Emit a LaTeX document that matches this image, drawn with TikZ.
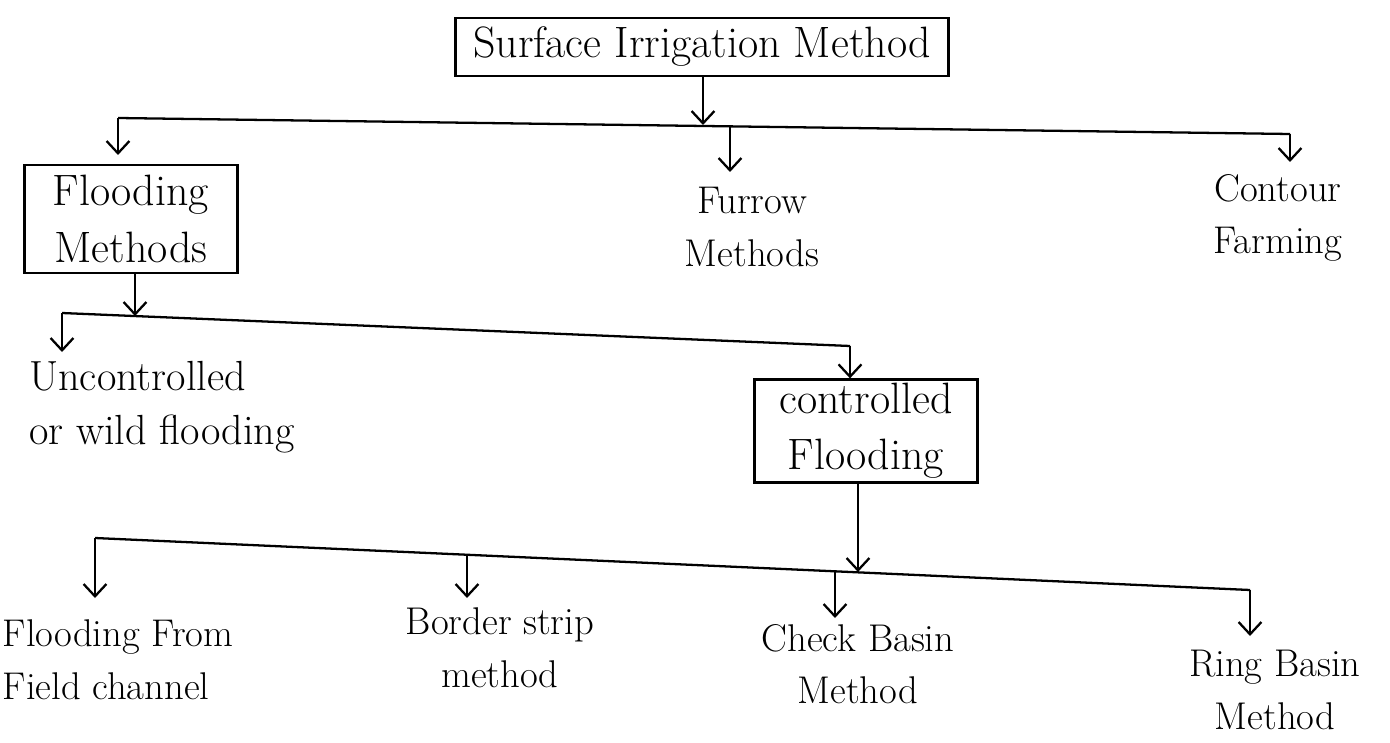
\documentclass[tikz,border=0pt]{standalone}
\usetikzlibrary{arrows.meta}
\begin{document}
\begin{tikzpicture}[x=0.02cm,y=-0.02cm,
    line width=1.3pt,
    >={Straight Barb[length=7pt,width=13pt]},
    box/.style={draw,align=center,inner sep=0pt,font=\fontsize{25}{32}\selectfont},
    leaf/.style={align=center,inner sep=0pt},
    every node/.style={font=\fontsize{22}{30}\selectfont}]
	\useasboundingbox (0,0) rectangle (1390,743);

	% main box
	\node[box,minimum width=493*0.02cm,minimum height=58*0.02cm] (surf) at (702,47) {Surface Irrigation Method};

	% first level
	\coordinate (b1l) at (118,118);
	\coordinate (b1m) at (730,126);
	\coordinate (b1t) at (703,125);
	\coordinate (b1r) at (1290,134);
	\draw (b1l) -- (b1r);
	\draw[->] (surf.south -| b1t) -- (b1t);

	\node[box,minimum width=213*0.02cm,minimum height=108*0.02cm] (flood) at (131,219) {Flooding\\Methods};
	\node[leaf] (furrow) at (752,227) {Furrow\\Methods};
	\node[leaf] (contour) at (1278,218) {Contour\\Farming};
	\draw[->] (b1l) -- (118,155);
	\draw[->] (b1m) -- (730,172);
	\draw[->] (b1r) -- (1290,162);

	% flooding methods
	\coordinate (b2l) at (62,313);
	\coordinate (b2m) at (135,316);
	\coordinate (b2r) at (850,346);
	\draw (b2l) -- (b2r);
	\draw[->] (flood.south -| b2m) -- (b2m);

	\node[leaf,align=left,anchor=north west,font=\fontsize{24}{31}\selectfont] (wild) at (28,360) {Uncontrolled\\or wild flooding};
	\node[box,minimum width=223*0.02cm,minimum height=103*0.02cm] (ctrl) at (866,431) {controlled\\Flooding};
	\draw[->] (b2l) -- (62,352);
	\draw[->] (b2r) -- (ctrl.north -| b2r);

	% controlled flooding
	\coordinate (b3l) at (95,538);
	\coordinate (b3a) at (467,555);
	\coordinate (b3m) at (858,572);
	\coordinate (b3b) at (835,571);
	\coordinate (b3r) at (1250,590);
	\draw (b3l) -- (b3r);
	\draw[->] (ctrl.south -| b3m) -- (b3m);

	\node[leaf,align=left] (field) at (118,660) {Flooding From\\Field channel};
	\node[leaf] (border) at (500,648) {Border strip\\method};
	\node[leaf] (check) at (858,664) {Check Basin\\Method};
	\node[leaf] (ring) at (1275,690) {Ring Basin\\Method};
	\draw[->] (b3l) -- (95,598);
	\draw[->] (b3a) -- (467,598);
	\draw[->] (b3b) -- (835,618);
	\draw[->] (b3r) -- (1250,636);
\end{tikzpicture}
\end{document}
